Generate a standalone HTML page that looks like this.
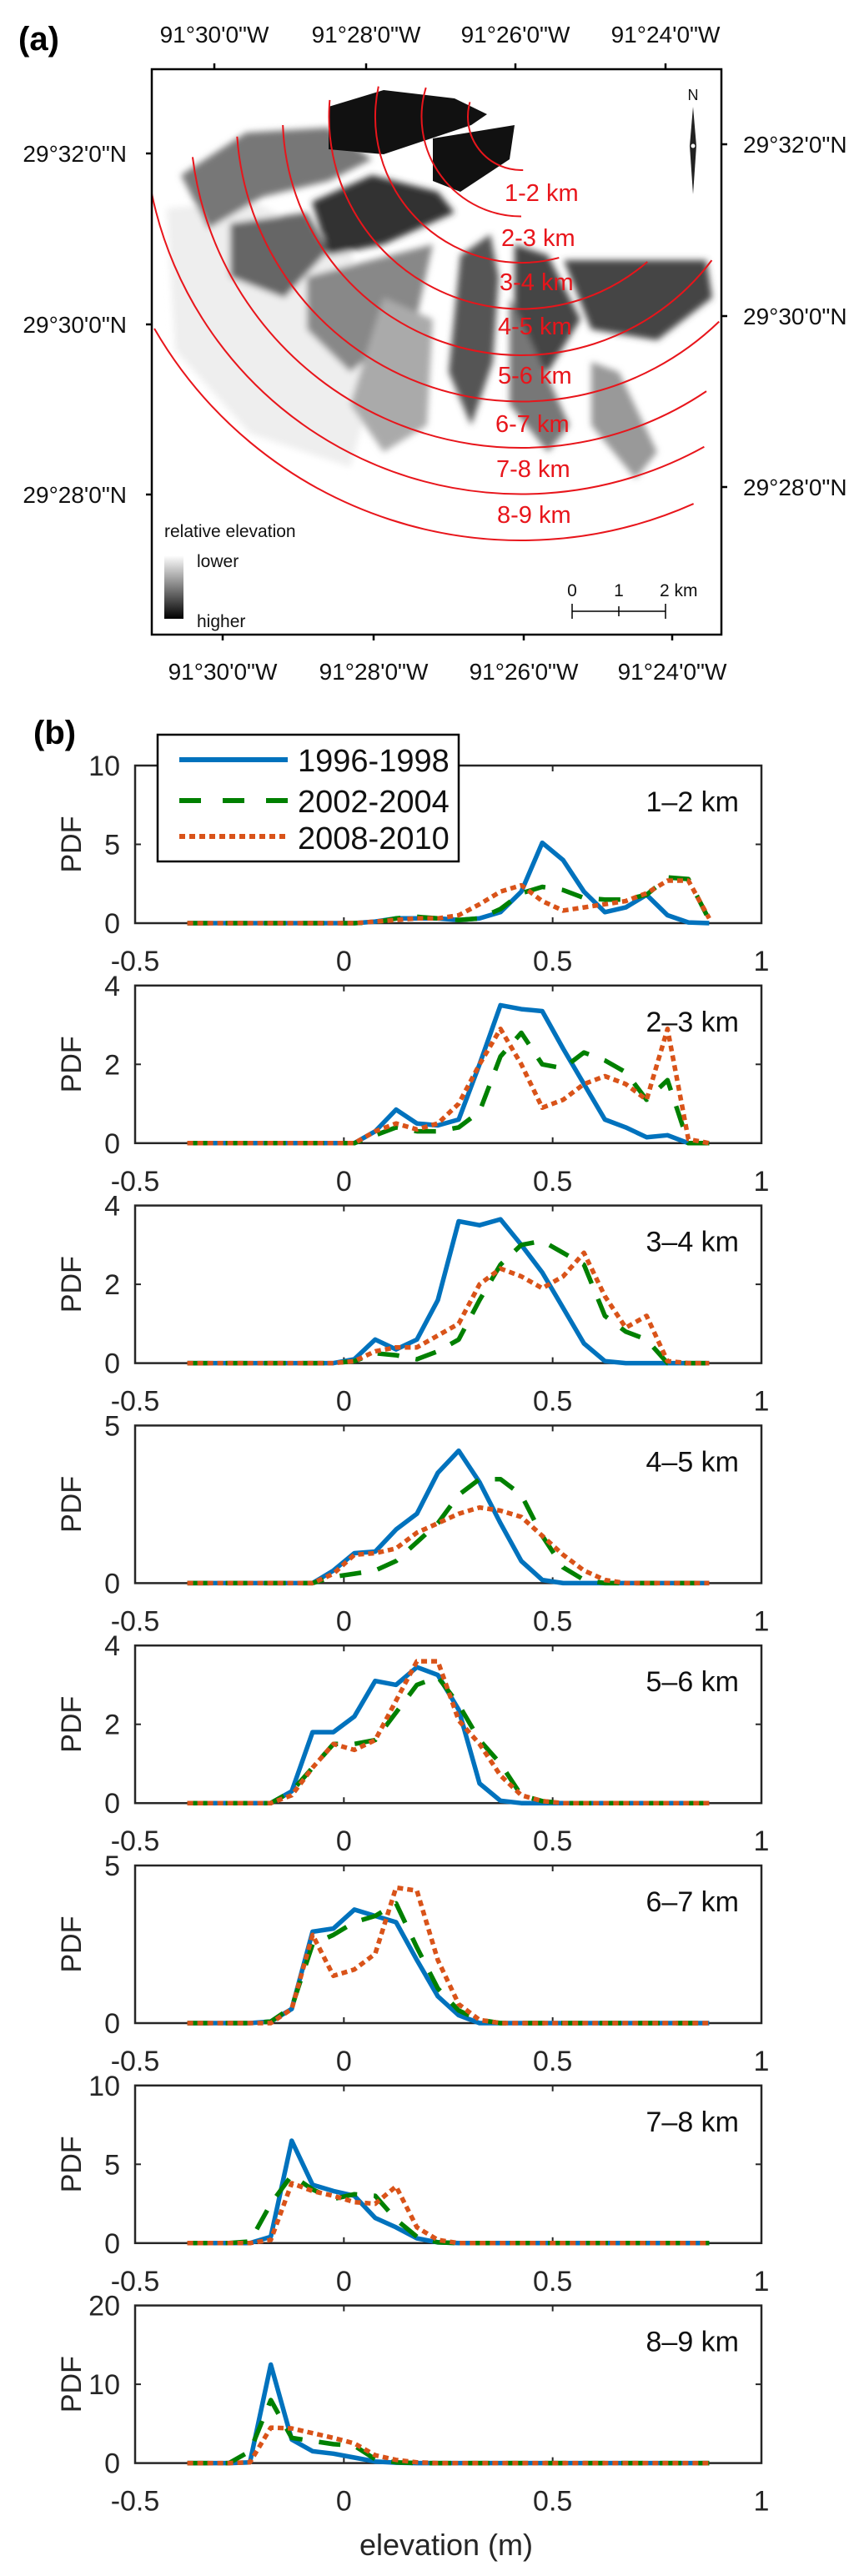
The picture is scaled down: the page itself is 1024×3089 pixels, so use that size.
<!DOCTYPE html>
<html><head><meta charset="utf-8"><style>
html,body{margin:0;padding:0;background:#fff}
svg{display:block}
text{font-family:"Liberation Sans",Arial,sans-serif}
</style></head><body>
<svg id="fig" width="1024" height="3089" viewBox="0 0 1024 3089" xmlns="http://www.w3.org/2000/svg">
<defs>
<linearGradient id="elevGrad" x1="0" y1="0" x2="0" y2="1"><stop offset="0" stop-color="#fff"/><stop offset="1" stop-color="#000"/></linearGradient>
<filter id="soft"><feGaussianBlur stdDeviation="4"/></filter>
<clipPath id="mapClip"><rect x="182" y="83" width="683" height="678"/></clipPath>
</defs>
<g id="mapPanel">
<text x="22" y="60" font-size="40" font-weight="bold">(a)</text>
<g clip-path="url(#mapClip)">
<g filter="url(#soft)">
<polygon points="200,250 300,240 420,300 460,420 420,560 300,520 210,420" fill="#eee"/>
<polygon points="217,210 295,159 394,153 446,191 394,217 315,236 250,274" fill="#777"/>
<polygon points="276,268 368,255 394,300 341,357 276,332" fill="#666"/>
<polygon points="374,242 446,210 525,230 545,255 460,293 394,306" fill="#333"/>
<polygon points="368,332 519,293 499,383 420,446 368,395" fill="#888"/>
<polygon points="460,357 519,383 512,510 460,542 420,485" fill="#aaa"/>
<polygon points="552,306 588,281 598,332 591,434 565,510 538,446" fill="#555"/>
<polygon points="617,293 657,306 696,383 657,446 617,415" fill="#444"/>
<polygon points="611,357 630,395 683,510 657,542 611,485" fill="#777"/>
<polygon points="676,312 847,312 854,357 788,408 709,395" fill="#444"/>
<polygon points="709,434 742,446 788,542 762,574 709,510" fill="#999"/>
</g>
<polygon points="394,128 460,108 545,118 584,137 565,150 460,185 394,179" fill="#111"/>
<polygon points="519,166 617,150 611,191 552,230 519,217" fill="#111"/>
<g id="arcs" fill="none" stroke="#e8151b" stroke-width="2"></g>
</g>
<rect x="182" y="83" width="683" height="678" fill="none" stroke="#000" stroke-width="2.5"/>
<g id="mapTicks" stroke="#000" stroke-width="2.5"></g>
<g id="mapLabels" font-size="28" fill="#111"></g>
<g id="kmLabels" font-size="29" fill="#e8151b"></g>
<text x="197" y="644" font-size="21" fill="#111">relative elevation</text>
<rect x="197" y="666" width="23" height="76" fill="url(#elevGrad)"/>
<text x="236" y="680" font-size="21" fill="#111">lower</text>
<text x="236" y="752" font-size="21" fill="#111">higher</text>
<g stroke="#000" stroke-width="1.5">
<line x1="686" y1="733" x2="798" y2="733"/><line x1="686" y1="724" x2="686" y2="742"/><line x1="742" y1="727" x2="742" y2="739"/><line x1="798" y1="724" x2="798" y2="742"/>
</g>
<text x="686" y="715" font-size="21" text-anchor="middle" fill="#111">0</text>
<text x="742" y="715" font-size="21" text-anchor="middle" fill="#111">1</text>
<text x="791" y="715" font-size="21" fill="#111">2 km</text>
<g>
<text x="831" y="120" font-size="18" text-anchor="middle" fill="#111">N</text>
<polygon points="831,128 835,175 831,233 827,175" fill="#222"/>
<circle cx="831" cy="175" r="3" fill="#fff" stroke="#222"/>
</g>
</g>
<text x="40" y="892" font-size="40" font-weight="bold">(b)</text>
<g id="charts"></g>
<g>
<rect x="189" y="881" width="361" height="152" fill="#fff" stroke="#000" stroke-width="2.5"/>
<line x1="215" y1="911" x2="345" y2="911" stroke="#0072BD" stroke-width="6"/>
<line x1="215" y1="960" x2="345" y2="960" stroke="#008000" stroke-width="6" stroke-dasharray="26 26"/>
<line x1="215" y1="1003" x2="345" y2="1003" stroke="#D95319" stroke-width="6" stroke-dasharray="7 5"/>
<text x="357" y="925" font-size="38" fill="#111">1996-1998</text>
<text x="357" y="974" font-size="38" fill="#111">2002-2004</text>
<text x="357" y="1018" font-size="38" fill="#111">2008-2010</text>
</g>
<text x="535" y="3064" font-size="36" text-anchor="middle" fill="#262626">elevation (m)</text>
</svg>
<script>
// ---- chart data ----
const binCenters = [-0.375,-0.325,-0.275,-0.225,-0.175,-0.125,-0.075,-0.025,0.025,0.075,0.125,0.175,0.225,0.275,0.325,0.375,0.425,0.475,0.525,0.575,0.625,0.675,0.725,0.775,0.825,0.875];
const panelNames = ["1–2 km","2–3 km","3–4 km","4–5 km","5–6 km","6–7 km","7–8 km","8–9 km"];
const yMaxes = [10,4,4,5,4,5,10,20];
const yTicks = [[0,5,10],[0,2,4],[0,2,4],[0,5],[0,2,4],[0,5],[0,5,10],[0,10,20]];
const xTicks = [-0.5,0,0.5,1];
const xTickLabels = ["-0.5","0","0.5","1"];
const seriesNames = ["1996-1998","2002-2004","2008-2010"];
const blue = [
[0,0,0,0,0,0,0,0,0,0.1,0.3,0.3,0.3,0.2,0.3,0.7,2.0,5.1,4.0,2.0,0.7,1.0,1.8,0.5,0.05,0],
[0,0,0,0,0,0,0,0,0,0.3,0.85,0.5,0.45,0.6,2.0,3.5,3.4,3.35,2.4,1.5,0.6,0.4,0.15,0.2,0,0],
[0,0,0,0,0,0,0,0,0.1,0.6,0.35,0.6,1.6,3.6,3.5,3.65,3.0,2.3,1.4,0.5,0.05,0,0,0,0,0],
[0,0,0,0,0,0,0,0.4,0.95,1.0,1.7,2.2,3.5,4.2,3.2,1.9,0.7,0.1,0,0,0,0,0,0,0,0],
[0,0,0,0,0,0.3,1.8,1.8,2.2,3.1,3.0,3.45,3.25,2.37,0.5,0.06,0,0,0,0,0,0,0,0,0,0],
[0,0,0,0,0.05,0.45,2.9,3.0,3.6,3.4,3.2,2.0,0.85,0.25,0,0,0,0,0,0,0,0,0,0,0,0],
[0,0,0,0,0.4,6.5,3.7,3.3,3.0,1.6,1.0,0.3,0.05,0,0,0,0,0,0,0,0,0,0,0,0,0],
[0,0,0,0.1,12.5,3.0,1.5,1.2,0.7,0.2,0.05,0,0,0,0,0,0,0,0,0,0,0,0,0,0,0]
];
const green = [
[0,0,0,0,0,0,0,0,0,0.05,0.3,0.4,0.3,0.2,0.3,0.9,1.9,2.3,2.1,1.6,1.5,1.5,1.8,2.9,2.8,0.2],
[0,0,0,0,0,0,0,0,0,0.2,0.4,0.3,0.3,0.4,0.8,2.2,2.8,2.0,1.9,2.3,2.1,1.8,1.1,1.6,0,0],
[0,0,0,0,0,0,0,0,0.05,0.25,0.2,0.1,0.3,0.6,1.6,2.5,3.0,3.1,2.8,2.5,1.2,0.8,0.6,0,0,0],
[0,0,0,0,0,0,0,0.2,0.3,0.4,0.7,1.3,1.9,2.8,3.3,3.3,2.8,1.5,0.5,0.1,0,0,0,0,0,0],
[0,0,0,0,0,0.3,0.9,1.5,1.5,1.6,2.3,3.0,3.2,2.5,1.6,1.0,0.2,0.05,0,0,0,0,0,0,0,0],
[0,0,0,0,0.05,0.5,2.5,2.8,3.2,3.4,3.8,2.4,1.1,0.4,0.1,0,0,0,0,0,0,0,0,0,0,0],
[0,0,0,0.1,2.5,4.3,3.4,2.8,3.1,3.0,1.5,0.4,0.05,0,0,0,0,0,0,0,0,0,0,0,0,0],
[0,0,0,1.5,8.0,3.2,2.8,2.4,2.2,0.5,0.1,0,0,0,0,0,0,0,0,0,0,0,0,0,0,0]
];
const orange = [
[0,0,0,0,0,0,0,0,0,0.1,0.2,0.3,0.3,0.5,1.2,2.0,2.4,1.4,0.8,1.0,1.2,1.4,1.9,2.7,2.7,0.3],
[0,0,0,0,0,0,0,0,0,0.3,0.5,0.35,0.5,1.0,2.0,2.9,2.0,0.9,1.1,1.5,1.7,1.5,1.1,2.9,0.1,0],
[0,0,0,0,0,0,0,0,0.05,0.3,0.4,0.4,0.7,1.0,2.0,2.4,2.2,1.9,2.2,2.8,1.7,0.9,1.2,0.05,0,0],
[0,0,0,0,0,0,0,0.3,0.9,0.95,1.1,1.6,1.9,2.2,2.4,2.3,2.1,1.5,0.9,0.4,0.1,0,0,0,0,0],
[0,0,0,0,0,0.2,0.9,1.5,1.35,1.6,2.6,3.6,3.6,2.1,1.5,0.7,0.2,0.05,0,0,0,0,0,0,0,0],
[0,0,0,0,0,0.45,2.8,1.5,1.7,2.2,4.3,4.2,2.0,0.6,0.1,0,0,0,0,0,0,0,0,0,0,0],
[0,0,0,0,0.2,3.8,3.3,3.0,2.6,2.5,3.6,1.0,0.2,0,0,0,0,0,0,0,0,0,0,0,0,0],
[0,0,0,0.1,4.5,4.4,3.8,3.2,2.5,1.0,0.4,0.1,0,0,0,0,0,0,0,0,0,0,0,0,0,0]
];
// map data
const kmLabels = ["1-2 km","2-3 km","3-4 km","4-5 km","5-6 km","6-7 km","7-8 km","8-9 km"];
const lonTop = ["91°30'0\"W","91°28'0\"W","91°26'0\"W","91°24'0\"W"];
const latLabels = ["29°32'0\"N","29°30'0\"N","29°28'0\"N"];

const NS = "http://www.w3.org/2000/svg";
function mk(tag, attrs, parent){const e=document.createElementNS(NS,tag);for(const k in attrs)e.setAttribute(k,attrs[k]);parent.appendChild(e);return e;}

// ---- map arcs ----
const arcsG = document.getElementById('arcs');
const cx0=625, cy0=140;
const arcStart=[196,197,192,185,178,176,173,169,150];
const arcEnd=[88,90,75,49,37,46,56,61,66];
for(let k=0;k<9;k++){
  const r=64+55.5*k;
  const a1=arcStart[k]*Math.PI/180, a2=arcEnd[k]*Math.PI/180;
  const x1=cx0+r*Math.cos(a1), y1=cy0+r*Math.sin(a1), x2=cx0+r*Math.cos(a2), y2=cy0+r*Math.sin(a2);
  const p=mk('path',{d:`M${x1},${y1} A${r},${r} 0 0 0 ${x2},${y2}`},arcsG);
  
  
}
const kmG=document.getElementById('kmLabels');
const kmY=[241,295,348,401,460,518,572,627];
const kmX=[605,601,599,597,597,594,595,596];
kmLabels.forEach((t,i)=>{const e=mk('text',{x:kmX[i],y:kmY[i]},kmG);e.textContent=t;
  
  });
const mt=document.getElementById('mapTicks'), ml=document.getElementById('mapLabels');
const topX=[257,439,618,798], botX=[267,448,628,806];
lonTop.forEach((t,i)=>{
  mk('line',{x1:topX[i],y1:83,x2:topX[i],y2:76},mt);
  mk('line',{x1:botX[i],y1:761,x2:botX[i],y2:768},mt);
  const a=mk('text',{x:topX[i],y:51,'text-anchor':'middle'},ml);a.textContent=t;
  
  
  const b=mk('text',{x:botX[i],y:815,'text-anchor':'middle'},ml);b.textContent=t;
  
  
});
const leftY=[184,389,593], rightY=[173,379,584];
latLabels.forEach((t,i)=>{
  mk('line',{x1:182,y1:leftY[i],x2:175,y2:leftY[i]},mt);
  mk('line',{x1:865,y1:rightY[i],x2:872,y2:rightY[i]},mt);
  const a=mk('text',{x:152,y:leftY[i]+10,'text-anchor':'end'},ml);a.textContent=t;
  
  
  const b=mk('text',{x:891,y:rightY[i]+10},ml);b.textContent=t;
  
  
});

// ---- PDF panels ----
const charts=document.getElementById('charts');
const L=162,R=913,H=189;
function xs(v){return L+(v+0.5)/1.5*(R-L);}
for(let p=0;p<8;p++){
  const top=918+263.8*p, bot=top+H;
  const ys=v=>bot-v/yMaxes[p]*H;
  const g=mk('g',{},charts);
  
  
  mk('rect',{x:L,y:top,width:R-L,height:H,fill:'none',stroke:'#262626','stroke-width':2.5},g);
  xTicks.forEach((t,i)=>{
    const x=xs(t);
    if(i>0&&i<xTicks.length-1){mk('line',{x1:x,y1:top,x2:x,y2:top+7,stroke:'#262626','stroke-width':2},g);mk('line',{x1:x,y1:bot,x2:x,y2:bot-7,stroke:'#262626','stroke-width':2},g);}
    const tl=mk('text',{x:x,y:bot+57,'text-anchor':'middle','font-size':34,fill:'#262626'},g);tl.textContent=xTickLabels[i];
    
    
  });
  yTicks[p].forEach(t=>{
    const y=ys(t);
    if(t>0&&t<yMaxes[p]){mk('line',{x1:L,y1:y,x2:L+7,y2:y,stroke:'#262626','stroke-width':2},g);mk('line',{x1:R,y1:y,x2:R-7,y2:y,stroke:'#262626','stroke-width':2},g);}
    const tl=mk('text',{x:144,y:y+12,'text-anchor':'end','font-size':34,fill:'#262626'},g);tl.textContent=String(t);
    
    
  });
  const yl=mk('text',{x:0,y:0,'font-size':34,fill:'#262626','text-anchor':'middle',transform:`translate(97,${top+H/2}) rotate(-90)`},g);yl.textContent='PDF';
  
  
  const nl=mk('text',{x:886,y:top+55,'text-anchor':'end','font-size':34,fill:'#111'},g);nl.textContent=panelNames[p];
  
  
  const sets=[[blue,'#0072BD',''],[green,'#008000','26 20'],[orange,'#D95319','7 5']];
  sets.forEach((s,si)=>{
    const pts=binCenters.map((x,i)=>xs(x).toFixed(1)+','+ys(s[0][p][i]).toFixed(1)).join(' ');
    const pl=mk('polyline',{points:pts,fill:'none',stroke:s[1],'stroke-width':5.5,'stroke-linejoin':'round'},g);
    if(s[2])pl.setAttribute('stroke-dasharray',s[2]);
    
    
  });
}
</script>
</body></html>
